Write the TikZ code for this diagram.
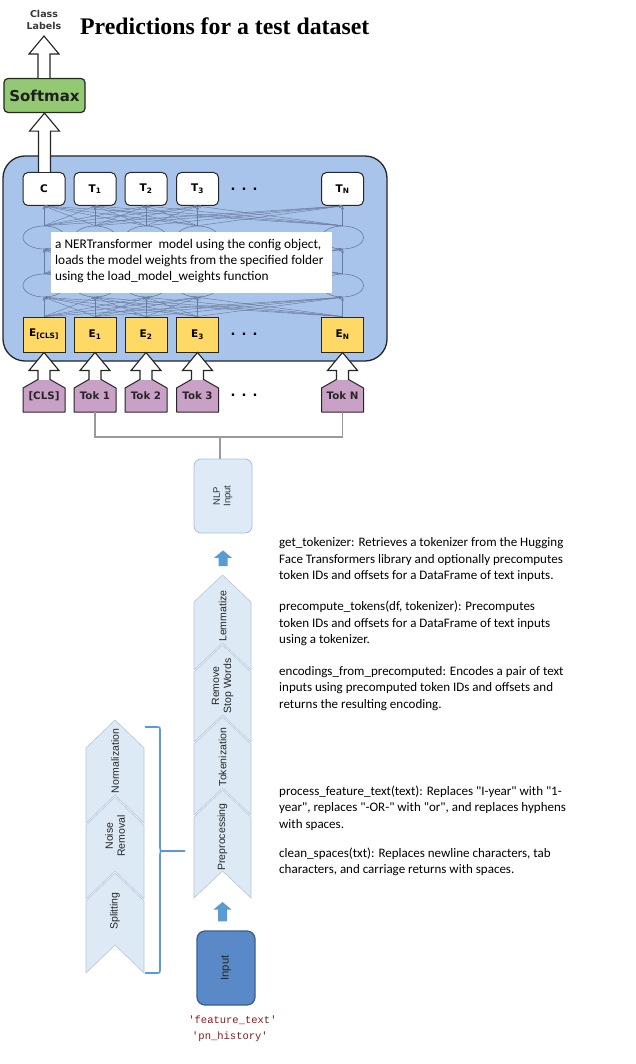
\documentclass[tikz,border=0pt]{standalone}
\usepackage{fontspec}
\setmainfont{Carlito}
\newfontfamily\dvsans{DejaVu Sans}
\newfontfamily\arsans{Liberation Sans}
\newfontfamily\tmserif{Liberation Serif}
\newfontfamily\crmono{Liberation Mono}
\usetikzlibrary{calc,shapes.geometric,arrows.meta}

\definecolor{trmfill}{HTML}{A9C4EB}
\definecolor{netline}{HTML}{6B7B9C}
\definecolor{embfill}{HTML}{FFD966}
\definecolor{tokfill}{HTML}{C9A0C6}
\definecolor{smfill}{HTML}{93C973}
\definecolor{chevfill}{HTML}{DDEAF6}
\definecolor{chevline}{HTML}{B4C6DC}
\definecolor{accent}{HTML}{5B9BD5}
\definecolor{inputfill}{HTML}{5A89C8}
\definecolor{inputline}{HTML}{3A5F8F}
\definecolor{nlpfill}{HTML}{DEEBF7}
\definecolor{nlpline}{HTML}{A6BFDD}
\definecolor{codered}{HTML}{8B1A1A}
\definecolor{darkline}{HTML}{262626}
\definecolor{joinline}{HTML}{9A9A9A}

% hollow block arrow pointing up from #1 to #2 (tip at #2)
\newcommand\openarrow[2]{%
  \fill[white] let \p1=(#1), \p2=(#2) in
    (\x2,\y2) -- (\x2+15pt,\y2-18pt) -- (\x2+6pt,\y2-18pt) -- (\x2+6pt,\y1)
    -- (\x2-6pt,\y1) -- (\x2-6pt,\y2-18pt) -- (\x2-15pt,\y2-18pt) -- cycle;
  \draw[openline] let \p1=(#1), \p2=(#2) in
    (\x2-6pt,\y1) -- (\x2-6pt,\y2-18pt) -- (\x2-15pt,\y2-18pt) -- (\x2,\y2)
    -- (\x2+15pt,\y2-18pt) -- (\x2+6pt,\y2-18pt) -- (\x2+6pt,\y1);}

% solid blue block arrow from #1 up to #2, gaps #3 (bottom) and #4 (top)
\newcommand\solidarrow[4]{%
  \fill[accent] let \p1=(#1), \p2=(#2) in
    (\x2,\y2-#4) -- (\x2+9pt,\y2-#4-7.5pt) -- (\x2+4.5pt,\y2-#4-7.5pt) -- (\x2+4.5pt,\y1+#3)
    -- (\x2-4.5pt,\y1+#3) -- (\x2-4.5pt,\y2-#4-7.5pt) -- (\x2-9pt,\y2-#4-7.5pt) -- cycle;}

% upward chevron: centre x, half width, point depth, peak y, notch y
\newcommand\chev[5]{%
  \filldraw[chevron] (#1,#4) -- (#1+#2,#4+#3) -- (#1+#2,#5+#3) -- (#1,#5)
    -- (#1-#2,#5+#3) -- (#1-#2,#4+#3) -- cycle;}

\begin{document}
\begin{tikzpicture}[x=1pt, y=-1pt,
  tbox/.style={draw=darkline, fill=white, rounded corners=5pt, line width=1pt,
    minimum width=42pt, minimum height=33pt, inner sep=0pt,
    font=\dvsans\bfseries\fontsize{10.5}{12}\selectfont},
  ebox/.style={draw=darkline, fill=embfill, line width=1pt, minimum width=42pt,
    minimum height=35pt, inner sep=0pt,
    font=\dvsans\bfseries\fontsize{10.5}{12}\selectfont},
  trm/.style={ellipse, draw=netline, line width=0.6pt, minimum width=42pt,
    minimum height=23pt, inner sep=0pt},
  net/.style={draw=netline, line width=0.45pt, -{Stealth[length=3.5pt,width=3pt]}},
  toklabel/.style={minimum width=42pt, minimum height=32pt, inner sep=0pt,
    font=\dvsans\bfseries\fontsize{10.3}{12}\selectfont, text=black!85},
  dots/.style={font=\dvsans\bfseries\fontsize{13}{13}\selectfont, inner sep=0pt},
  openline/.style={draw=darkline, line width=1.1pt, line join=miter},
  chevron/.style={fill=chevfill, draw=chevline, line width=0.6pt, line join=miter},
  chevtext/.style={rotate=90, align=center, inner sep=0pt,
    font=\arsans\fontsize{10.5}{12}\selectfont, text=black!85},
  desc/.style={anchor=base west, align=left, inner sep=0pt,
    font=\fontsize{13}{16.6}\selectfont},
  code/.style={inner sep=0pt, font=\crmono\fontsize{10.5}{12}\selectfont, text=codered},
]
\useasboundingbox (0,0) rectangle (636,1064);
\fill[white] (0,0) rectangle (636,1064);

% ---------- heading ----------
\node[anchor=base west, inner sep=0pt,
  font=\tmserif\bfseries\fontsize{23.8}{26}\selectfont] (title) at (80,35)
  {Predictions for a test dataset};
% multi-line nodes are anchored at the baseline of their last line
\node[anchor=base, align=center, inner sep=0pt, text=black!78,
  font=\dvsans\bfseries\fontsize{9.5}{12}\selectfont] (labels) at (44,29.5) {Class\\Labels};
\coordinate (labtip) at (44,36);

\node[draw=darkline, fill=smfill, rounded corners=4pt, line width=1.2pt,
  minimum width=81pt, minimum height=34pt, inner sep=0pt, text=black!88,
  font=\dvsans\bfseries\fontsize{15}{15}\selectfont] (softmax) at (44.5,95.5) {Softmax};

% ---------- transformer block ----------
\draw[fill=trmfill, draw=darkline, line width=1.3pt, rounded corners=22pt]
  (3,156) rectangle (387,361);

\node[tbox] (t0) at (44,189) {C};
\node[tbox] (t1) at (95,189) {T\textsubscript{1}};
\node[tbox] (t2) at (146,189) {T\textsubscript{2}};
\node[tbox] (t3) at (197.5,189) {T\textsubscript{3}};
\node[tbox] (tN) at (342.5,189) {T\textsubscript{N}};
\node[dots] (tdots) at (244,189) {. . .};

\foreach \k/\cx in {0/44,1/95,2/146,3/197.5,N/342.5} {
  \node[trm] (a\k) at (\cx,237.5) {};
  \node[trm] (b\k) at (\cx,285.5) {};
}

\node[ebox] (e0) at (44,334.5) {E\textsubscript{[CLS]}};
\node[ebox] (e1) at (95,334.5) {E\textsubscript{1}};
\node[ebox] (e2) at (146,334.5) {E\textsubscript{2}};
\node[ebox] (e3) at (197.5,334.5) {E\textsubscript{3}};
\node[ebox] (eN) at (342.5,334.5) {E\textsubscript{N}};
\node[dots] (edots) at (244,334.5) {. . .};

% fully connected layers
\foreach \i in {0,1,2,3,N} {
  \foreach \j in {0,1,2,3,N} {
    \draw[net] (e\i.north) -- (b\j.south);
    \draw[net] (b\i.north) -- (a\j.south);
    \draw[net] (a\i.north) -- (t\j.south);
  }
}

% note over the layers
\fill[white] (50.7,231.7) rectangle (331.7,292.7);
\node[desc, font=\fontsize{13.3}{16}\selectfont] (note) at (55,280)
  {a NERTransformer\ \ model using the config object,\\
   loads the model weights from the specified folder\\
   using the load\_model\_weights function};

% ---------- input tokens ----------
\foreach \k/\cx/\txt in {0/44/[CLS],1/95/Tok 1,2/146/Tok 2,3/197.5/Tok 3,N/342.5/Tok N} {
  \filldraw[fill=tokfill, draw=darkline, line width=1pt, line join=round]
    (\cx-21,412) -- (\cx+21,412) -- (\cx+21,388) -- (\cx,376) -- (\cx-21,388) -- cycle;
  \node[toklabel] (k\k) at (\cx,396) {\txt};
}
\node[dots] (kdots) at (244,395) {. . .};

\foreach \k in {0,1,2,3,N} { \openarrow{k\k.north}{e\k.south} }
\openarrow{t0.north}{softmax.south}
\openarrow{softmax.north}{labtip}

% ---------- NLP input ----------
\node[draw=nlpline, fill=nlpfill, rounded corners=7pt, line width=0.8pt,
  minimum width=58pt, minimum height=74pt, inner sep=0pt, text=black!80,
  font=\arsans\fontsize{9.5}{10.5}\selectfont] (nlp) at (223,496)
  {\rotatebox{90}{\begin{tabular}{@{}c@{}}NLP\\Input\end{tabular}}};

\coordinate (join) at (220,437);
\draw[joinline, line width=1.2pt] (k1.south) |- (join);
\draw[joinline, line width=1.2pt] (kN.south) |- (join);
\draw[joinline, line width=1.2pt] (join) -- (nlp.north -| join);

% ---------- pipeline chevrons ----------
\chev{222.5}{28.5}{27}{575}{643}
\chev{222.5}{28.5}{27}{645}{715}
\chev{222.5}{28.5}{27}{717}{788}
\chev{222.5}{28.5}{27}{790}{871}
\node[chevtext] (lem) at (222.5,616) {Lemmatize};
\node[chevtext] (rsw) at (222.5,686) {Remove\\Stop Words};
\node[chevtext] (tokz) at (222.5,757) {Tokenization};
\node[chevtext] (prep) at (222.5,837) {Preprocessing};

\chev{115}{29}{28}{720}{795}
\chev{115}{29}{28}{797}{871}
\chev{115}{29}{28}{873}{945}
\node[chevtext] (norm) at (115,761) {Normalization};
\node[chevtext] (noise) at (115,836) {Noise\\Removal};
\node[chevtext] (split) at (115,911) {Splitting};

% bracket grouping the preprocessing steps
\draw[accent, line width=1.6pt]
  (145,727) -- (156,727) .. controls (160,727) .. (160,731) -- (160,846)
  .. controls (160,851) .. (165,851) -- (185,851);
\draw[accent, line width=1.6pt]
  (165,851) .. controls (160,851) .. (160,856) -- (160,969)
  .. controls (160,973) .. (156,973) -- (145,973);

\coordinate (lempeak) at (222.5,575);
\coordinate (prepbase) at (222.5,898);
\solidarrow{lempeak}{nlp.south}{9pt}{17pt}

% ---------- raw input ----------
\node[draw=inputline, fill=inputfill, rounded corners=8pt, line width=1.3pt,
  minimum width=58pt, minimum height=74pt, inner sep=0pt, text=black!85,
  font=\arsans\fontsize{11.3}{12}\selectfont] (input) at (226,968) {\rotatebox{90}{Input}};
\solidarrow{input.north}{prepbase}{9pt}{4pt}

\node[code] (col1) at (232.5,1020) {\textquotesingle feature\_text\textquotesingle};
\node[code] (col2) at (230,1037) {\textquotesingle pn\_history\textquotesingle};

% ---------- descriptions ----------
\node[desc] (d1) at (279,579.7)
  {get\_tokenizer: Retrieves a tokenizer from the Hugging\\
   Face Transformers library and optionally precomputes\\
   token IDs and offsets for a DataFrame of text inputs.};
\node[desc] (d2) at (279,643.7)
  {precompute\_tokens(df, tokenizer): Precomputes\\
   token IDs and offsets for a DataFrame of text inputs\\
   using a tokenizer.};
\node[desc] (d3) at (279,708.2)
  {encodings\_from\_precomputed: Encodes a pair of text\\
   inputs using precomputed token IDs and offsets and\\
   returns the resulting encoding.};
\node[desc] (d4) at (279,828.2)
  {process\_feature\_text(text): Replaces \textquotedbl I-year\textquotedbl{} with \textquotedbl 1-\\
   year\textquotedbl, replaces \textquotedbl -OR-\textquotedbl{} with \textquotedbl or\textquotedbl, and replaces hyphens\\
   with spaces.};
\node[desc] (d5) at (279,873.6)
  {clean\_spaces(txt): Replaces newline characters, tab\\
   characters, and carriage returns with spaces.};
\end{tikzpicture}
\end{document}
